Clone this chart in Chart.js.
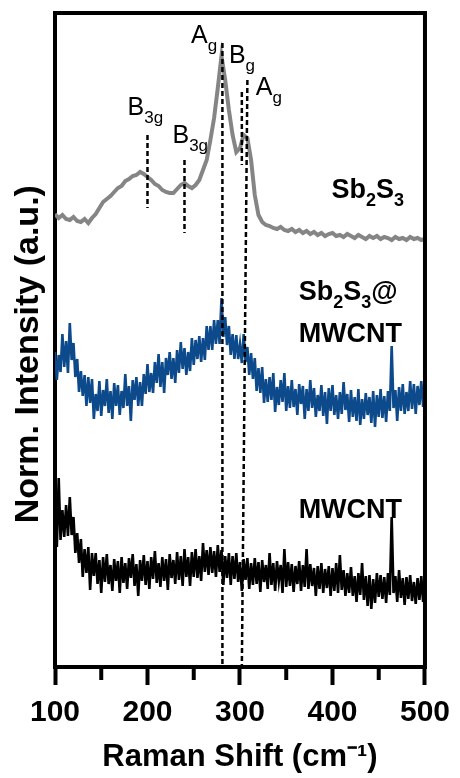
<!DOCTYPE html>
<html>
<head>
<meta charset="utf-8">
<script src="https://cdn.jsdelivr.net/npm/chart.js@4.4.1/dist/chart.umd.min.js"></script>
<style>
  body { margin: 0; background: #fff; }
  #grafico { display: block; }
</style>
</head>
<body>
<canvas id="grafico" width="460" height="778"></canvas>
<script>
// Raman shift grids (cm-1)
const shiftCoarse = [100,104,108,112,116,120,124,128,132,136,140,144,148,152,156,160,164,168,172,176,180,184,188,192,196,200,204,208,212,216,220,224,228,232,236,240,244,248,252,256,260,264,268,272,276,280,284,288,292,296,300,304,308,312,316,320,324,328,332,336,340,344,348,352,356,360,364,368,372,376,380,384,388,392,396,400,404,408,412,416,420,424,428,432,436,440,444,448,452,456,460,464,468,472,476,480,484,488,492,496,500];
const shiftFine = [100,102,104,106,108,110,112,114,116,118,120,122,124,126,128,130,132,134,136,138,140,142,144,146,148,150,152,154,156,158,160,162,164,166,168,170,172,174,176,178,180,182,184,186,188,190,192,194,196,198,200,202,204,206,208,210,212,214,216,218,220,222,224,226,228,230,232,234,236,238,240,242,244,246,248,250,252,254,256,258,260,262,264,266,268,270,272,274,276,278,280,282,284,286,288,290,292,294,296,298,300,302,304,306,308,310,312,314,316,318,320,322,324,326,328,330,332,334,336,338,340,342,344,346,348,350,352,354,356,358,360,362,364,366,368,370,372,374,376,378,380,382,384,386,388,390,392,394,396,398,400,402,404,406,408,410,412,414,416,418,420,422,424,426,428,430,432,434,436,438,440,442,444,446,448,450,452,454,456,458,460,462,464,466,468,470,472,474,476,478,480,482,484,486,488,490,492,494,496,498,500];

// intensities (a.u., stacked with offsets)
const sb2s3 = [453,449,452,448,447,450,446,445,448,444,449,453,459,465,468,471,475,479,481,486,488,491,492,495,493,490,487,483,481,477,475,474,474,478,482,484,481,479,482,487,497,507,527,549,579,611,587,557,532,515,519,532,529,507,472,452,445,442,441,439,438,440,437,436,438,435,437,434,436,433,435,432,434,431,433,434,431,432,430,433,431,429,432,430,428,431,429,431,428,430,429,427,430,428,429,427,430,428,429,427,428];

const sb2s3Mwcnt = [315,287,312,295,333,300,326,294,344,307,324,290,308,275,296,271,292,261,290,264,288,248,273,256,286,251,277,261,288,254,276,248,284,261,282,252,276,259,293,261,281,246,287,267,290,261,285,261,293,273,303,275,294,274,305,284,313,280,305,274,309,292,315,288,309,284,317,294,325,298,319,292,315,296,329,302,327,308,331,305,329,307,341,317,341,317,347,323,347,323,369,330,350,322,341,312,333,308,332,308,323,304,333,305,320,292,314,288,309,276,299,274,300,264,288,265,290,267,294,255,280,262,287,265,294,256,281,259,287,260,278,252,283,263,281,248,278,256,287,259,279,250,272,256,282,251,275,243,279,256,282,252,272,248,275,253,285,257,273,245,277,250,270,246,278,242,268,248,274,252,270,244,276,240,272,250,278,249,271,245,276,256,321,259,277,246,280,256,283,253,275,256,286,258,283,253,281,262,286,260,276];

const mwcnt = [152,120,189,127,157,130,162,131,170,132,150,114,134,104,128,90,118,94,120,77,114,91,114,83,107,74,110,85,113,83,102,76,108,86,106,74,110,84,104,78,109,89,113,81,103,71,107,86,112,82,106,78,110,88,116,84,104,80,110,86,108,77,113,89,107,83,115,87,111,81,118,90,110,81,115,90,118,89,111,86,124,95,117,92,120,94,116,90,122,95,117,82,111,89,114,82,111,88,114,85,105,76,108,87,109,78,104,82,109,83,105,75,107,85,102,78,114,82,104,76,106,86,102,74,118,80,105,81,103,75,101,83,106,76,102,80,118,78,103,81,99,71,101,78,104,74,98,79,101,71,99,76,104,74,112,77,97,71,94,74,100,71,91,65,94,72,104,67,91,61,92,58,88,64,94,70,92,68,90,64,94,72,150,74,91,65,97,69,89,62,90,68,92,66,85,63,89,67,91,65,81];

// peak marker lines: [x1, y1, x2, y2]
const peakMarks = [
  [200, 532, 200, 459],
  [240, 507, 240, 434],
  [281, 624, 281, 0],
  [302, 575, 302, 502],
  [308, 587, 302, 0]
];

const tickMajor = [100, 200, 300, 400, 500];
const tickMinor = [150, 250, 350, 450];

const peakLabels = [
  { main: 'A', sub: 'g', x: 247, y: 624 },
  { main: 'B', sub: 'g', x: 288, y: 604 },
  { main: 'A', sub: 'g', x: 317, y: 572 },
  { main: 'B', sub: '3g', x: 178.5, y: 552 },
  { main: 'B', sub: '3g', x: 227, y: 524 }
];

const sampleLabels = [
  { x: 399, y: 469, parts: [['Sb', 0], ['2', 1], ['S', 0], ['3', 1]] },
  { x: 363.4, y: 367, parts: [['Sb', 0], ['2', 1], ['S', 0], ['3', 1], ['@', 0]] },
  { x: 363.4, y: 325, parts: [['MWCNT', 0]] },
  { x: 363.4, y: 149, parts: [['MWCNT', 0]] }
];

const FONT = '"Liberation Sans", Arial, sans-serif';

function puntos(xs, ys) {
  return ys.map((v, i) => ({ x: xs[i], y: v }));
}

const datasets = [];
peakMarks.forEach(m => {
  datasets.push({
    data: [{ x: m[0], y: m[1] }, { x: m[2], y: m[3] }],
    borderColor: '#000',
    borderWidth: 2.5,
    borderDash: [5, 3],
    pointRadius: 0,
    order: 0
  });
});
datasets.push({ data: puntos(shiftCoarse, sb2s3), borderColor: '#858585', borderWidth: 4, pointRadius: 0, order: 1 });
datasets.push({ data: puntos(shiftFine, sb2s3Mwcnt), borderColor: '#0d4a8c', borderWidth: 2.6, pointRadius: 0, order: 1 });
datasets.push({ data: puntos(shiftFine, mwcnt), borderColor: '#000', borderWidth: 2.6, pointRadius: 0, order: 1 });

const marco = {
  id: 'marco',
  afterDatasetsDraw(chart) {
    const { ctx, scales } = chart;
    const x = scales.x, y = scales.y;
    ctx.save();
    ctx.fillStyle = '#000';
    ctx.textBaseline = 'alphabetic';
    ctx.textAlign = 'left';

    // peak labels
    peakLabels.forEach(l => {
      const px = x.getPixelForValue(l.x);
      const py = y.getPixelForValue(l.y);
      ctx.font = '25px ' + FONT;
      ctx.fillText(l.main, px, py);
      const w = ctx.measureText(l.main).width;
      ctx.font = '17px ' + FONT;
      ctx.fillText(l.sub, px + w, py + 8);
    });

    // sample labels
    sampleLabels.forEach(l => {
      let px = x.getPixelForValue(l.x);
      const py = y.getPixelForValue(l.y);
      l.parts.forEach(p => {
        ctx.font = p[1] ? 'bold 18px ' + FONT : 'bold 27px ' + FONT;
        ctx.fillText(p[0], px, py + (p[1] ? 8 : 0));
        px += ctx.measureText(p[0]).width;
      });
    });
    ctx.restore();
  },
  afterDraw(chart) {
    const { ctx, chartArea, scales } = chart;
    ctx.save();
    ctx.strokeStyle = '#000';
    ctx.lineWidth = 4;
    ctx.beginPath();
    ctx.moveTo(chartArea.left - 2, chartArea.top);
    ctx.lineTo(chartArea.right, chartArea.top);
    ctx.lineTo(chartArea.right, chartArea.bottom + 2);
    ctx.stroke();
    // minor ticks
    tickMinor.forEach(v => {
      const px = scales.x.getPixelForValue(v);
      ctx.beginPath();
      ctx.moveTo(px, chartArea.bottom);
      ctx.lineTo(px, chartArea.bottom + 13);
      ctx.stroke();
    });
    ctx.restore();
  }
};

new Chart(document.getElementById('grafico'), {
  type: 'line',
  data: { datasets: datasets },
  options: {
    responsive: false,
    animation: false,
    events: [],
    layout: { padding: { left: 8, right: 33, top: 13, bottom: 2 } },
    plugins: { legend: { display: false }, tooltip: { enabled: false } },
    elements: { line: { tension: 0 } },
    scales: {
      x: {
        type: 'linear',
        min: 100,
        max: 500,
        afterFit: s => { s.height = 109; },
        afterBuildTicks: s => { s.ticks = tickMajor.map(v => ({ value: v })); },
        ticks: { color: '#000', padding: 10, font: { family: FONT, size: 30, weight: 'bold' } },
        grid: { drawOnChartArea: false, drawTicks: true, tickLength: 18, tickWidth: 4, tickColor: '#000' },
        border: { display: true, width: 4, color: '#000' },
        title: {
          display: true,
          text: 'Raman Shift (cm\u207B\u00B9)',
          color: '#000',
          font: { family: FONT, size: 31, weight: 'bold' },
          padding: { top: 0, bottom: 0 }
        }
      },
      y: {
        min: 0,
        max: 654,
        afterFit: s => { s.width = 47; },
        ticks: { display: false },
        grid: { drawOnChartArea: false, drawTicks: false },
        border: { display: true, width: 4, color: '#000' },
        title: {
          display: true,
          text: 'Norm. Intensity (a.u.)   ',
          color: '#000',
          font: { family: FONT, size: 34, weight: 'bold' },
          padding: 0
        }
      }
    }
  },
  plugins: [marco]
});
</script>
</body>
</html>
